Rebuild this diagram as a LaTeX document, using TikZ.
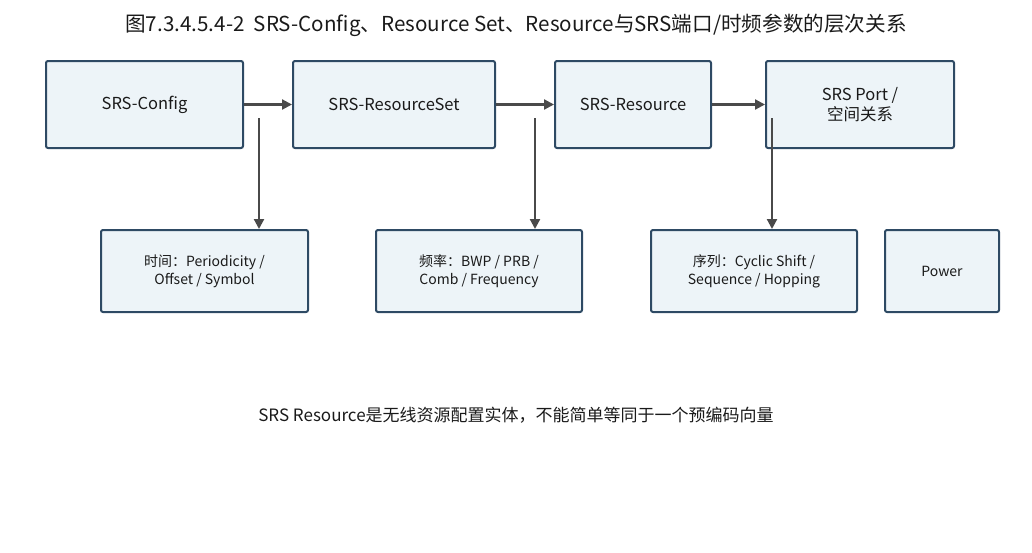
\documentclass[tikz,border=0pt]{standalone}
\usepackage{fontspec}
\setmainfont{Noto Sans CJK SC}
\usepackage{tikz}
\usetikzlibrary{positioning,arrows.meta,calc}

\definecolor{boxfill}{HTML}{EDF4F8}
\definecolor{boxline}{HTML}{2E4A64}
\definecolor{arrowgray}{HTML}{4A4A4A}
\definecolor{txt}{HTML}{1A1A1A}

\begin{document}
\begin{tikzpicture}[
  x=1pt, y=-1pt,
  topbox/.style={rectangle, draw=boxline, fill=boxfill, line width=2pt, rounded corners=2pt,
    minimum height=87pt, inner sep=0pt, align=center, text=txt, font=\fontsize{16.5}{20}\selectfont},
  subbox/.style={topbox, minimum height=82pt, font=\fontsize{14}{18}\selectfont},
  link/.style={draw=arrowgray, line width=2.2pt, -{Triangle[length=10pt,width=10pt]}},
  >=Stealth
]
  \useasboundingbox (0,0) rectangle (1032,552);

  % Title
  \node[text=txt, font=\fontsize{20.6}{24}\selectfont] (title) at (516,25)
    {图7.3.4.5.4-2\ \ SRS-Config、Resource Set、Resource与SRS端口/时频参数的层次关系};

  % Top row
  \node[topbox, minimum width=197pt] (cfg) at (144.5,104.5) {SRS-Config};
  \node[topbox, minimum width=202pt] (set) at (394,104.5)   {SRS-ResourceSet};
  \node[topbox, minimum width=156pt] (res) at (633,104.5)   {SRS-Resource};
  \node[topbox, minimum width=188pt] (port) at (860,104.5)  {SRS Port /\\空间关系};

  % Bottom row
  \node[subbox, minimum width=207pt] (time) at (204.5,271) {时间：Periodicity /\\Offset / Symbol};
  \node[subbox, minimum width=206pt] (freq) at (479,271)   {频率：BWP / PRB /\\Comb / Frequency};
  \node[subbox, minimum width=206pt] (seq) at (754,271)    {序列：Cyclic Shift /\\Sequence / Hopping};
  \node[subbox, minimum width=114pt] (pwr) at (942,271)    {Power};

  \draw[link] (cfg) -- (set);
  \draw[link] (set) -- (res);
  \draw[link] (res) -- (port);

  % Branch starts
  \coordinate (t0) at (259,118);
  \coordinate (f0) at (535,118);
  \coordinate (s0) at (772,118);
  \draw[link] (t0) -- (t0 |- time.north);
  \draw[link] (f0) -- (f0 |- freq.north);
  \draw[link] (s0) -- (s0 |- seq.north);

  % Note
  \node[text=txt, font=\fontsize{17}{20}\selectfont] (note) at (516,415)
    {SRS Resource是无线资源配置实体，不能简单等同于一个预编码向量};
\end{tikzpicture}
\end{document}
